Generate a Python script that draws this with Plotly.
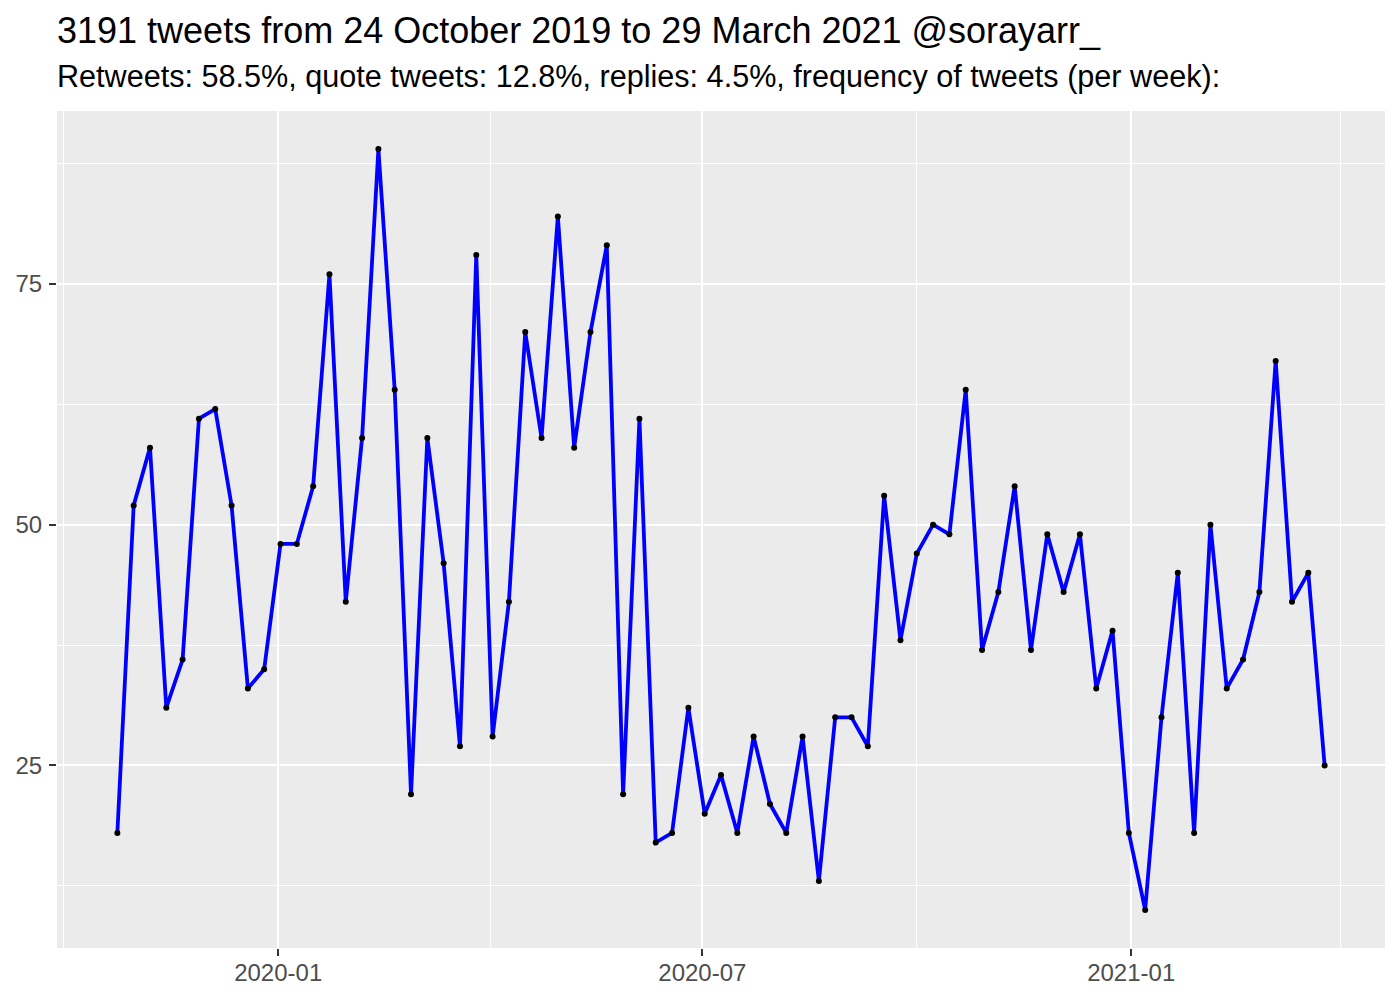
import pandas as pd
import plotly.graph_objects as go

start_date = "2019-10-24"
tweets_per_week = [18, 52, 58, 31, 36, 61, 62, 52, 33, 35, 48, 48, 54, 76, 42, 59, 89, 64, 22, 59,
                   46, 27, 78, 28, 42, 70, 59, 82, 58, 70, 79, 22, 61, 17, 18, 31, 20, 24, 18, 28,
                   21, 18, 28, 13, 30, 30, 27, 53, 38, 47, 50, 49, 64, 37, 43, 54, 37, 49, 43, 49,
                   33, 39, 18, 10, 30, 45, 18, 50, 33, 36, 43, 67, 42, 45, 25]
dates = pd.date_range(start=start_date, periods=len(tweets_per_week), freq="7D")

title_text = "3191 tweets from 24 October 2019 to 29 March 2021 @sorayarr_"
subtitle_text = "Retweets: 58.5%, quote tweets: 12.8%, replies: 4.5%, frequency of tweets (per week):"
x_tick_vals = ["2020-01-01", "2020-07-01", "2021-01-01"]
x_tick_text = ["2020-01", "2020-07", "2021-01"]
y_tick_vals = [25, 50, 75]

# ggplot-style 5% expansion
span = dates[-1] - dates[0]
x_range = [dates[0] - span * 0.05, dates[-1] + span * 0.05]
ymin, ymax = min(tweets_per_week), max(tweets_per_week)
yr = ymax - ymin
y_range = [ymin - 0.05 * yr, ymax + 0.05 * yr]

FONT = "Liberation Sans, Arial, sans-serif"
PANEL_TOP = 103
PANEL_H = 837

fig = go.Figure()
fig.add_trace(go.Scatter(
    x=dates, y=tweets_per_week, mode="lines+markers",
    line=dict(color="#0000FF", width=3.8),
    marker=dict(color="black", size=6),
    showlegend=False, hoverinfo="x+y",
))

fig.update_layout(
    width=1400, height=1000,
    paper_bgcolor="white", plot_bgcolor="#EBEBEB",
    margin=dict(l=49, r=23, t=PANEL_TOP, b=1000 - PANEL_TOP - PANEL_H, autoexpand=False),
    font=dict(family=FONT, color="#4D4D4D", size=24),
    annotations=[
        dict(text=title_text, xref="paper", yref="paper", x=0, y=1 + (PANEL_TOP - 23) / PANEL_H,
             xanchor="left", yanchor="middle", showarrow=False, xshift=-2,
             font=dict(family=FONT, size=36, color="black")),
        dict(text=subtitle_text, xref="paper", yref="paper", x=0, y=1 + (PANEL_TOP - 69) / PANEL_H,
             xanchor="left", yanchor="middle", showarrow=False, xshift=-2,
             font=dict(family=FONT, size=30.6, color="black")),
    ],
)

fig.update_xaxes(
    type="date", range=x_range,
    tickvals=x_tick_vals, ticktext=x_tick_text,
    showgrid=True, gridcolor="white", gridwidth=2.2,
    ticks="outside", ticklen=7, tickwidth=2, tickcolor="#333333",
    ticklabelstandoff=-4,
    tickfont=dict(family=FONT, size=24, color="#4D4D4D"),
    minor=dict(tickvals=["2019-10-01", "2020-04-01", "2020-10-01", "2021-04-01"],
               showgrid=True, gridcolor="white", gridwidth=1.1, ticks=""),
    zeroline=False, showline=False,
)
fig.update_yaxes(
    range=y_range, tickvals=y_tick_vals,
    showgrid=True, gridcolor="white", gridwidth=2.2,
    ticks="outside", ticklen=7, tickwidth=2, tickcolor="#333333",
    ticklabelstandoff=2,
    tickfont=dict(family=FONT, size=24, color="#4D4D4D"),
    minor=dict(tickvals=[12.5, 37.5, 62.5, 87.5], showgrid=True, gridcolor="white",
               gridwidth=1.1, ticks=""),
    zeroline=False, showline=False,
)

fig.write_html("out.html")
